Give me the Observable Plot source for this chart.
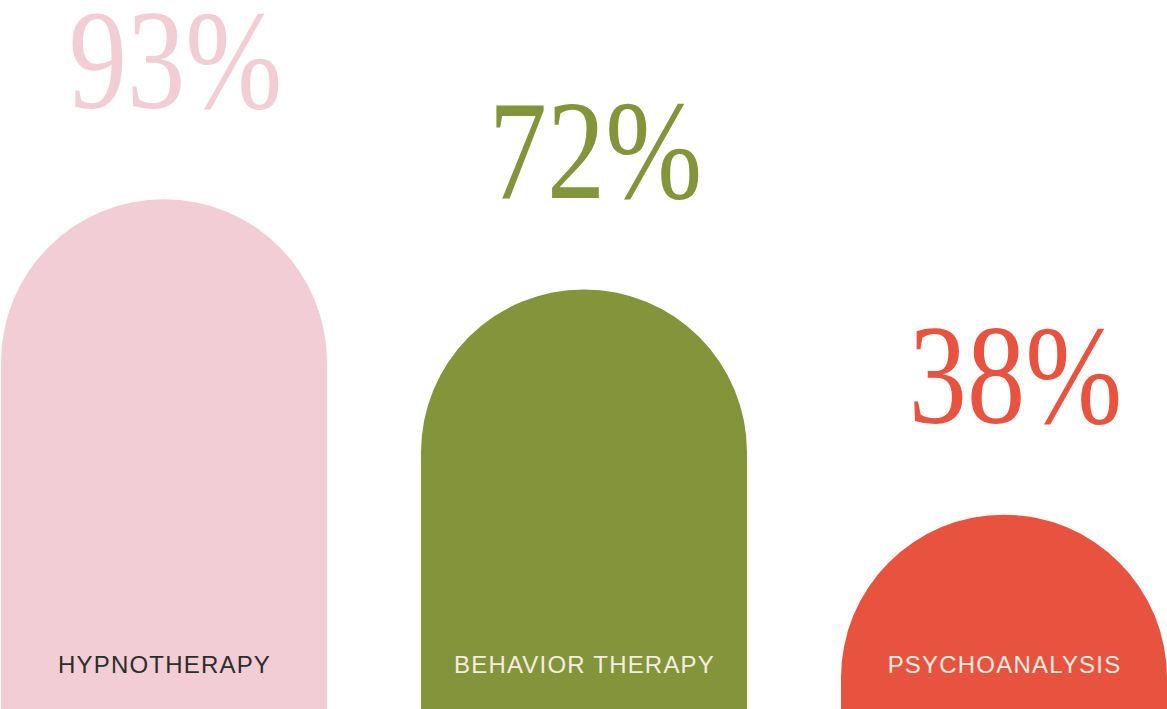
<!DOCTYPE html>
<html>
<head>
<meta charset="utf-8">
<script src="https://cdn.jsdelivr.net/npm/d3@7"></script>
<script src="https://cdn.jsdelivr.net/npm/@observablehq/plot@0.6"></script>
<style>
  html, body { margin: 0; padding: 0; background: #ffffff; overflow: hidden; }
  #chart { width: 1167px; height: 709px; overflow: hidden; }
  #chart svg { display: block; background: #ffffff; }
</style>
</head>
<body>
<div id="chart"></div>
<script>
// ---- data ----
const categories = ["HYPNOTHERAPY", "BEHAVIOR THERAPY", "PSYCHOANALYSIS"];
const values = [93, 72, 38];
const valueLabels = ["93%", "72%", "38%"];
const barColors = ["#F3CDD5", "#83943A", "#E8533F"];
const nameColors = ["#2B2E29", "#F4EDE0", "#F4EDE0"];
const baseValue = 10; // bars start below the visible floor of the scale

const data = categories.map((c, i) => ({
  category: c,
  value: values[i],
  base: baseValue,
  label: valueLabels[i],
  color: barColors[i],
  nameColor: nameColors[i]
}));

const W = 1167, H = 709;

const chart = Plot.plot({
  width: W,
  height: H,
  marginTop: 0,
  marginBottom: 0,
  marginLeft: 0,
  marginRight: 0,
  style: { background: "#ffffff", overflow: "hidden" },
  x: { type: "band", domain: categories, paddingInner: 0.225, paddingOuter: 0, axis: null },
  y: { type: "log", domain: [21.9, 163.6], axis: null },
  marks: [
    Plot.rectY(data, {
      x: "category",
      y1: "base",
      y2: "value",
      fill: d => d.color,
      rx: 163
    }),
    Plot.text(data, {
      x: "category",
      y: "value",
      text: "label",
      fill: d => d.color,
      fontFamily: "Liberation Serif",
      fontSize: 142,
      lineAnchor: "bottom",
      textAnchor: "middle",
      dx: 11,
      dy: -92
    }),
    Plot.text(data, {
      x: "category",
      frameAnchor: "bottom",
      text: "category",
      fill: d => d.nameColor,
      fontFamily: "Liberation Sans",
      fontSize: 24,
      lineAnchor: "bottom",
      textAnchor: "middle",
      dy: -37
    })
  ]
});

document.getElementById("chart").appendChild(chart);

// styling adjustments: condensed display numerals and tracked category names
const svg = d3.select(chart.tagName.toLowerCase() === "svg" ? chart : chart.querySelector("svg"));
const textGroups = svg.selectAll("g[aria-label='text']").nodes();
if (textGroups[0]) {
  d3.select(textGroups[0]).selectAll("text").each(function () {
    const t = d3.select(this);
    const tr = t.attr("transform");
    if (tr) {
      t.attr("transform", tr + " scale(0.82,1)");
    } else {
      const x = +t.attr("x") || 0, y = +t.attr("y") || 0;
      t.attr("x", null).attr("y", null).attr("transform", `translate(${x},${y}) scale(0.82,1)`);
    }
  });
}
if (textGroups[1]) {
  d3.select(textGroups[1]).selectAll("text").style("letter-spacing", "1.2px");
}
</script>
</body>
</html>
